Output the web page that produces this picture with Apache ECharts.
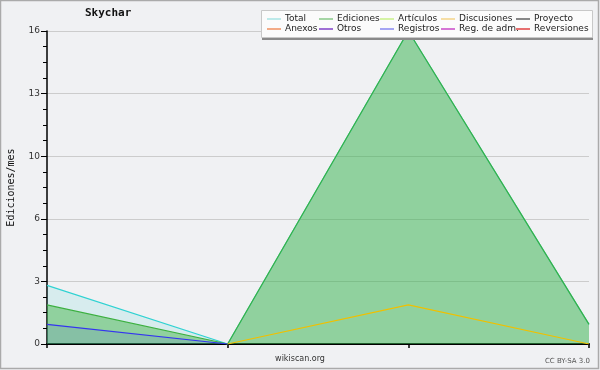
<!DOCTYPE html>
<html>
<head>
<meta charset="utf-8">
<script src="https://cdn.jsdelivr.net/npm/echarts@6/dist/echarts.min.js"></script>
<style>html,body{margin:0;padding:0;background:#f0f1f3;}#c{width:600px;height:370px;}</style>
</head>
<body>
<div id="c"></div>
<script>
const categories = ['1', '2', '3', '4'];
const total = [3, 0, 16, 1];
const ediciones = [2, 0, 16, 1];
const articulos = [];
const discusiones = [null, 0, 2, 0];
const proyecto = [];
const anexos = [];
const otros = [];
const registros = [1, 0, null, null];
const regAdm = [];
const reversiones = [];

const legendCols = [
  ['Total', 'Anexos'],
  ['Ediciones', 'Otros'],
  ['Artículos', 'Registros'],
  ['Discusiones', 'Reg. de adm.'],
  ['Proyecto', 'Reversiones']
];
const legendColors = {
  'Total': '#a8e4e4', 'Ediciones': '#88c888', 'Artículos': '#c8f088', 'Discusiones': '#f4d488',
  'Proyecto': '#606060', 'Anexos': '#f09060', 'Otros': '#8040c8', 'Registros': '#8888f0',
  'Reg. de adm.': '#c848c8', 'Reversiones': '#e04040'
};
const colLeft = [267, 319, 380, 441, 516];

const chart = echarts.init(document.getElementById('c'));

function mk(name, data, color, areaOpacity, lw) {
  const s = {
    name: name, type: 'line', data: data, symbol: 'none', connectNulls: false,
    lineStyle: { color: color, width: lw || 1.2 }, itemStyle: { color: color },
    emphasis: { disabled: true }
  };
  if (areaOpacity) s.areaStyle = { color: color, opacity: areaOpacity };
  return s;
}

const series = [
  mk('Total', total, '#30d2d2', 0.13),
  mk('Ediciones', ediciones, '#3cb040', 0.46),
  mk('Registros', registros, '#3434f0', 0.1),
  mk('Discusiones', discusiones, '#f0c000', 0),
  mk('Artículos', articulos, '#c0f080'),
  mk('Proyecto', proyecto, '#606060'),
  mk('Anexos', anexos, '#f09060'),
  mk('Otros', otros, '#8040c0'),
  mk('Reg. de adm.', regAdm, '#c040c0'),
  mk('Reversiones', reversiones, '#e04040')
];

const legends = legendCols.map((col, i) => ({
  show: true, orient: 'vertical', left: colLeft[i], top: 14, z: 101,
  itemWidth: 14, itemHeight: 1.5, itemGap: 0, icon: 'rect', selectedMode: false,
  padding: 0,
  textStyle: { fontFamily: 'DejaVu Sans', fontSize: 9, color: '#222', lineHeight: 10, padding: [0, 0, 0, -1] },
  data: col.map(n => ({ name: n, itemStyle: { color: legendColors[n] } }))
}));

chart.setOption({
  backgroundColor: '#f0f1f3',
  animation: false,
  title: {
    text: 'Skychar', left: 85, top: 8, padding: 0,
    textStyle: { fontFamily: 'DejaVu Sans Mono', fontWeight: 'bold', fontSize: 11, color: '#111' }
  },
  legend: legends,
  grid: { left: 47, right: 11, top: 31, bottom: 26, outerBoundsMode: 'none', containLabel: false },
  xAxis: {
    type: 'category', data: categories, boundaryGap: false,
    axisLine: { lineStyle: { color: '#000', width: 2 } },
    axisTick: { show: true, length: 4, lineStyle: { color: '#000', width: 1.5 } },
    axisLabel: { show: false }, splitLine: { show: false }
  },
  yAxis: {
    type: 'value', min: 0, max: 16, interval: 3.2,
    name: 'Ediciones/mes', nameLocation: 'middle', nameGap: 31, nameRotate: 90,
    nameTextStyle: { fontFamily: 'DejaVu Sans Mono', fontSize: 10, color: '#111' },
    axisLine: { show: true, lineStyle: { color: '#000', width: 1.5 } },
    axisTick: { show: true, length: 6, lineStyle: { color: '#000', width: 1 } },
    minorTick: { show: true, splitNumber: 4, length: 4, lineStyle: { color: '#000', width: 1 } },
    axisLabel: { margin: 7, fontFamily: 'DejaVu Sans', fontSize: 9, color: '#333',
      formatter: v => String(Math.round(v)) },
    splitLine: { show: true, lineStyle: { color: '#cccccc', width: 1 } }
  },
  graphic: [
    { type: 'rect', z: 0, silent: true, shape: { x: 0.5, y: 0.5, width: 598, height: 368 },
      style: { fill: 'none', stroke: '#aaaaaa', lineWidth: 1.5 } },
    { type: 'rect', z: 99, silent: true, shape: { x: 262, y: 13, width: 331, height: 27 },
      style: { fill: '#8a8a8a' } },
    { type: 'rect', z: 100, silent: true, shape: { x: 261.5, y: 10.5, width: 331, height: 27 },
      style: { fill: '#fbfbfb', stroke: '#c8c8c8', lineWidth: 1 } },
    { type: 'text', z: 100, silent: true, left: 'center', top: 355,
      style: { text: 'wikiscan.org', fontFamily: 'DejaVu Sans', fontSize: 8, fill: '#333' } },
    { type: 'text', z: 100, silent: true, right: 10, top: 358,
      style: { text: 'CC BY-SA 3.0', fontFamily: 'DejaVu Sans', fontSize: 7, fill: '#555' } }
  ],
  series: series
});
</script>
</body>
</html>
